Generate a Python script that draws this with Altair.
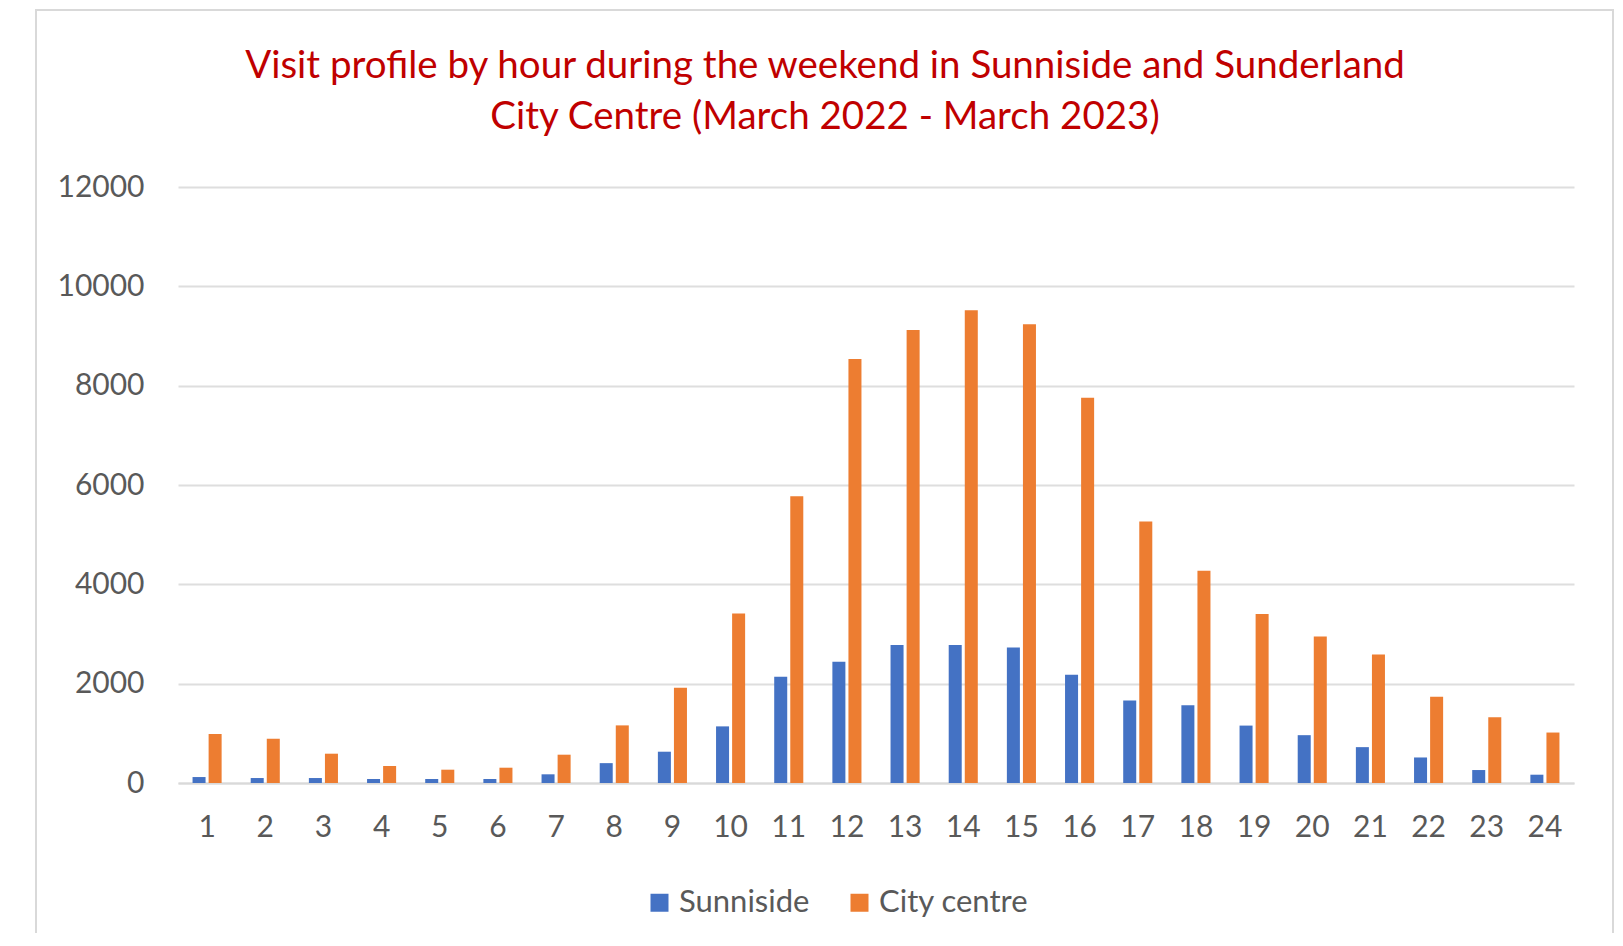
import altair as alt
import pandas as pd

hours = list(range(1, 25))
sunniside = [120, 100, 100, 80, 80, 80, 175, 400, 630, 1140, 2140, 2440,
             2780, 2780, 2730, 2180, 1660, 1565, 1156, 963, 722, 514, 261, 167]
city_centre = [987, 891, 590, 342, 268, 308, 570, 1160, 1918, 3412, 5772, 8535,
               9123, 9518, 9237, 7758, 5264, 4275, 3404, 2950, 2589, 1738, 1325, 1016]
series_names = ["Sunniside", "City centre"]
title_lines = ["Visit profile by hour during the weekend in Sunniside and Sunderland",
               "City Centre (March 2022 - March 2023)"]
y_ticks = [0, 2000, 4000, 6000, 8000, 10000, 12000]

rows = []
for h, s, c in zip(hours, sunniside, city_centre):
    rows.append({"hour": h, "series": series_names[0], "value": s})
    rows.append({"hour": h, "series": series_names[1], "value": c})
df = pd.DataFrame(rows)

FONT = "Lato"
GRAY = "#595959"

bars = alt.Chart(df).mark_bar().encode(
    x=alt.X("hour:O",
            scale=alt.Scale(paddingInner=0.5, paddingOuter=0.25),
            axis=alt.Axis(title=None, labelAngle=0, ticks=False, domain=True,
                          domainColor="#D9D9D9", domainWidth=2,
                          labelFont=FONT, labelFontSize=30, labelColor=GRAY,
                          labelPadding=29, grid=False)),
    xOffset=alt.XOffset("series:N", sort=series_names,
                        scale=alt.Scale(paddingInner=0.19, paddingOuter=0)),
    y=alt.Y("value:Q",
            scale=alt.Scale(domain=[0, 12000], nice=False),
            axis=alt.Axis(title=None, values=y_ticks, format="d", ticks=False, domain=False,
                          gridColor="#DEDEDE", gridWidth=2,
                          labelFont=FONT, labelFontSize=30, labelColor=GRAY,
                          labelPadding=34)),
    color=alt.Color("series:N",
                    scale=alt.Scale(domain=series_names, range=["#4472C4", "#ED7D31"]),
                    legend=alt.Legend(title=None, orient="none", direction="horizontal",
                                      legendX=466, legendY=700,
                                      symbolType="square", symbolSize=324,
                                      symbolStrokeWidth=0, labelOffset=4,
                                      columnPadding=34,
                                      labelFont=FONT, labelFontSize=31,
                                      labelColor=GRAY)),
)

one = alt.Data(values=[{"k": 1}])

frame = alt.Chart(one).mark_rect(fillOpacity=0, stroke="#D9D9D9", strokeWidth=2,
                                 clip=False).encode(
    x=alt.value(-142), x2=alt.value(1435), y=alt.value(-177), y2=alt.value(790))

t1 = alt.Chart(one).mark_text(text=title_lines[0], font=FONT, fontSize=38.5,
                              color="#C00000", align="center", baseline="middle").encode(
    x=alt.value(647), y=alt.value(-121))
t2 = alt.Chart(one).mark_text(text=title_lines[1], font=FONT, fontSize=38.5,
                              color="#C00000", align="center", baseline="middle").encode(
    x=alt.value(647), y=alt.value(-70))

chart = alt.layer(frame, bars, t1, t2).properties(
    width=1396, height=596,
    autosize=alt.AutoSizeParams(type="none"),
    padding={"left": 170, "top": 179, "right": 41, "bottom": 150},
).configure_view(stroke=None)

chart.save("out.html", embed_options={"renderer": "svg", "actions": False})
